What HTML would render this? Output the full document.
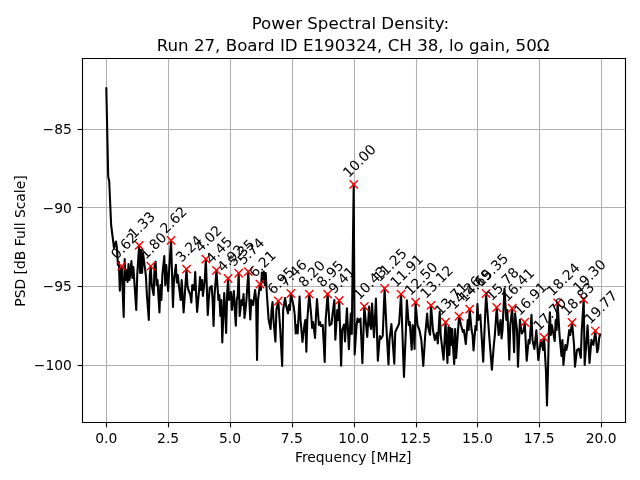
<!DOCTYPE html>
<html><head><meta charset="utf-8"><style>html,body{margin:0;padding:0;background:#fff;overflow:hidden}svg{display:block}</style></head><body>
<svg width="640" height="480" viewBox="0 0 460.8 345.6" version="1.1">
 
 <defs>
  <style type="text/css">*{stroke-linejoin: round; stroke-linecap: butt}</style>
 </defs>
 <g id="figure_1">
  <g id="patch_1">
   <path d="M 0 345.6 
L 460.8 345.6 
L 460.8 0 
L 0 0 
z
" style="fill: #ffffff"/>
  </g>
  <g id="axes_1">
   <g id="patch_2">
    <path d="M 58.757991 304.56 
L 449.874197 304.56 
L 449.874197 42.48 
L 58.757991 42.48 
z
" style="fill: #ffffff"/>
   </g>
   <g id="matplotlib.axis_1">
    <g id="xtick_1">
     <g id="line2d_1">
      <path d="M 76.6800 304.2000 
L 76.6800 42.1200 
" clip-path="url(#pe8d234627e)" style="fill: none; stroke: #b0b0b0; stroke-width: 0.8; stroke-linecap: square"/>
     </g>
     <g id="line2d_2">
      <defs>
       <path id="m1504cfccaf" d="M 0.0000 0.0000 
L 0.0000 3.5000 
" style="stroke: #000000; stroke-width: 0.8"/>
      </defs>
      <g>
       <path d="M 76.6800 304.2000 L 76.6800 307.7000" style="stroke: #000000; stroke-width: 0.8"/>
      </g>
     </g>
     <g id="text_1">
      <text style="font-size: 10px; font-family: 'DejaVu Sans', 'Bitstream Vera Sans', 'Computer Modern Sans Serif', 'Lucida Grande', 'Verdana', 'Geneva', 'Lucid', 'Arial', 'Helvetica', 'Avant Garde', sans-serif; text-anchor: middle" x="76.536" y="319.158437" transform="rotate(-0 76.536 319.158437)">0.0</text>
     </g>
    </g>
    <g id="xtick_2">
     <g id="line2d_3">
      <path d="M 121.3200 304.2000 
L 121.3200 42.1200 
" clip-path="url(#pe8d234627e)" style="fill: none; stroke: #b0b0b0; stroke-width: 0.8; stroke-linecap: square"/>
     </g>
     <g id="line2d_4">
      <g>
       <path d="M 121.3200 304.2000 L 121.3200 307.7000" style="stroke: #000000; stroke-width: 0.8"/>
      </g>
     </g>
     <g id="text_2">
      <text style="font-size: 10px; font-family: 'DejaVu Sans', 'Bitstream Vera Sans', 'Computer Modern Sans Serif', 'Lucida Grande', 'Verdana', 'Geneva', 'Lucid', 'Arial', 'Helvetica', 'Avant Garde', sans-serif; text-anchor: middle" x="121.068" y="319.158437" transform="rotate(-0 121.068 319.158437)">2.5</text>
     </g>
    </g>
    <g id="xtick_3">
     <g id="line2d_5">
      <path d="M 165.9600 304.2000 
L 165.9600 42.1200 
" clip-path="url(#pe8d234627e)" style="fill: none; stroke: #b0b0b0; stroke-width: 0.8; stroke-linecap: square"/>
     </g>
     <g id="line2d_6">
      <g>
       <path d="M 165.9600 304.2000 L 165.9600 307.7000" style="stroke: #000000; stroke-width: 0.8"/>
      </g>
     </g>
     <g id="text_3">
      <text style="font-size: 10px; font-family: 'DejaVu Sans', 'Bitstream Vera Sans', 'Computer Modern Sans Serif', 'Lucida Grande', 'Verdana', 'Geneva', 'Lucid', 'Arial', 'Helvetica', 'Avant Garde', sans-serif; text-anchor: middle" x="165.6" y="319.158437" transform="rotate(-0 165.6 319.158437)">5.0</text>
     </g>
    </g>
    <g id="xtick_4">
     <g id="line2d_7">
      <path d="M 210.6000 304.2000 
L 210.6000 42.1200 
" clip-path="url(#pe8d234627e)" style="fill: none; stroke: #b0b0b0; stroke-width: 0.8; stroke-linecap: square"/>
     </g>
     <g id="line2d_8">
      <g>
       <path d="M 210.6000 304.2000 L 210.6000 307.7000" style="stroke: #000000; stroke-width: 0.8"/>
      </g>
     </g>
     <g id="text_4">
      <text style="font-size: 10px; font-family: 'DejaVu Sans', 'Bitstream Vera Sans', 'Computer Modern Sans Serif', 'Lucida Grande', 'Verdana', 'Geneva', 'Lucid', 'Arial', 'Helvetica', 'Avant Garde', sans-serif; text-anchor: middle" x="210.132" y="319.158437" transform="rotate(-0 210.132 319.158437)">7.5</text>
     </g>
    </g>
    <g id="xtick_5">
     <g id="line2d_9">
      <path d="M 255.2400 304.2000 
L 255.2400 42.1200 
" clip-path="url(#pe8d234627e)" style="fill: none; stroke: #b0b0b0; stroke-width: 0.8; stroke-linecap: square"/>
     </g>
     <g id="line2d_10">
      <g>
       <path d="M 255.2400 304.2000 L 255.2400 307.7000" style="stroke: #000000; stroke-width: 0.8"/>
      </g>
     </g>
     <g id="text_5">
      <text style="font-size: 10px; font-family: 'DejaVu Sans', 'Bitstream Vera Sans', 'Computer Modern Sans Serif', 'Lucida Grande', 'Verdana', 'Geneva', 'Lucid', 'Arial', 'Helvetica', 'Avant Garde', sans-serif; text-anchor: middle" x="254.664" y="319.158437" transform="rotate(-0 254.664 319.158437)">10.0</text>
     </g>
    </g>
    <g id="xtick_6">
     <g id="line2d_11">
      <path d="M 299.8800 304.2000 
L 299.8800 42.1200 
" clip-path="url(#pe8d234627e)" style="fill: none; stroke: #b0b0b0; stroke-width: 0.8; stroke-linecap: square"/>
     </g>
     <g id="line2d_12">
      <g>
       <path d="M 299.8800 304.2000 L 299.8800 307.7000" style="stroke: #000000; stroke-width: 0.8"/>
      </g>
     </g>
     <g id="text_6">
      <text style="font-size: 10px; font-family: 'DejaVu Sans', 'Bitstream Vera Sans', 'Computer Modern Sans Serif', 'Lucida Grande', 'Verdana', 'Geneva', 'Lucid', 'Arial', 'Helvetica', 'Avant Garde', sans-serif; text-anchor: middle" x="299.196" y="319.158437" transform="rotate(-0 299.196 319.158437)">12.5</text>
     </g>
    </g>
    <g id="xtick_7">
     <g id="line2d_13">
      <path d="M 343.8000 304.2000 
L 343.8000 42.1200 
" clip-path="url(#pe8d234627e)" style="fill: none; stroke: #b0b0b0; stroke-width: 0.8; stroke-linecap: square"/>
     </g>
     <g id="line2d_14">
      <g>
       <path d="M 343.8000 304.2000 L 343.8000 307.7000" style="stroke: #000000; stroke-width: 0.8"/>
      </g>
     </g>
     <g id="text_7">
      <text style="font-size: 10px; font-family: 'DejaVu Sans', 'Bitstream Vera Sans', 'Computer Modern Sans Serif', 'Lucida Grande', 'Verdana', 'Geneva', 'Lucid', 'Arial', 'Helvetica', 'Avant Garde', sans-serif; text-anchor: middle" x="343.728" y="319.158437" transform="rotate(-0 343.728 319.158437)">15.0</text>
     </g>
    </g>
    <g id="xtick_8">
     <g id="line2d_15">
      <path d="M 388.4400 304.2000 
L 388.4400 42.1200 
" clip-path="url(#pe8d234627e)" style="fill: none; stroke: #b0b0b0; stroke-width: 0.8; stroke-linecap: square"/>
     </g>
     <g id="line2d_16">
      <g>
       <path d="M 388.4400 304.2000 L 388.4400 307.7000" style="stroke: #000000; stroke-width: 0.8"/>
      </g>
     </g>
     <g id="text_8">
      <text style="font-size: 10px; font-family: 'DejaVu Sans', 'Bitstream Vera Sans', 'Computer Modern Sans Serif', 'Lucida Grande', 'Verdana', 'Geneva', 'Lucid', 'Arial', 'Helvetica', 'Avant Garde', sans-serif; text-anchor: middle" x="388.26" y="319.158437" transform="rotate(-0 388.26 319.158437)">17.5</text>
     </g>
    </g>
    <g id="xtick_9">
     <g id="line2d_17">
      <path d="M 433.0800 304.2000 
L 433.0800 42.1200 
" clip-path="url(#pe8d234627e)" style="fill: none; stroke: #b0b0b0; stroke-width: 0.8; stroke-linecap: square"/>
     </g>
     <g id="line2d_18">
      <g>
       <path d="M 433.0800 304.2000 L 433.0800 307.7000" style="stroke: #000000; stroke-width: 0.8"/>
      </g>
     </g>
     <g id="text_9">
      <text style="font-size: 10px; font-family: 'DejaVu Sans', 'Bitstream Vera Sans', 'Computer Modern Sans Serif', 'Lucida Grande', 'Verdana', 'Geneva', 'Lucid', 'Arial', 'Helvetica', 'Avant Garde', sans-serif; text-anchor: middle" x="432.792" y="319.158437" transform="rotate(-0 432.792 319.158437)">20.0</text>
     </g>
    </g>
    <g id="text_10">
     <text style="font-size: 10px; font-family: 'DejaVu Sans', 'Bitstream Vera Sans', 'Computer Modern Sans Serif', 'Lucida Grande', 'Verdana', 'Geneva', 'Lucid', 'Arial', 'Helvetica', 'Avant Garde', sans-serif; text-anchor: middle" x="254.316094" y="332.836562" transform="rotate(-0 254.316094 332.836562)">Frequency [MHz]</text>
    </g>
   </g>
   <g id="matplotlib.axis_2">
    <g id="ytick_1">
     <g id="line2d_19">
      <path d="M 59.4000 263.1600 
L 450.3600 263.1600 
" clip-path="url(#pe8d234627e)" style="fill: none; stroke: #b0b0b0; stroke-width: 0.8; stroke-linecap: square"/>
     </g>
     <g id="line2d_20">
      <defs>
       <path id="m5d545ce8f8" d="M 0.0000 0.0000 
L -3.5000 0.0000 
" style="stroke: #000000; stroke-width: 0.8"/>
      </defs>
      <g>
       <path d="M 59.4000 263.1600 L 55.9000 263.1600" style="stroke: #000000; stroke-width: 0.8"/>
      </g>
     </g>
     <g id="text_11">
      <text style="font-size: 10px; font-family: 'DejaVu Sans', 'Bitstream Vera Sans', 'Computer Modern Sans Serif', 'Lucida Grande', 'Verdana', 'Geneva', 'Lucid', 'Arial', 'Helvetica', 'Avant Garde', sans-serif; text-anchor: end" x="51.7580" y="266.5020" transform="rotate(-0 51.7580 266.5020)">−100</text>
     </g>
    </g>
    <g id="ytick_2">
     <g id="line2d_21">
      <path d="M 59.4000 206.2800 
L 450.3600 206.2800 
" clip-path="url(#pe8d234627e)" style="fill: none; stroke: #b0b0b0; stroke-width: 0.8; stroke-linecap: square"/>
     </g>
     <g id="line2d_22">
      <g>
       <path d="M 59.4000 206.2800 L 55.9000 206.2800" style="stroke: #000000; stroke-width: 0.8"/>
      </g>
     </g>
     <g id="text_12">
      <text style="font-size: 10px; font-family: 'DejaVu Sans', 'Bitstream Vera Sans', 'Computer Modern Sans Serif', 'Lucida Grande', 'Verdana', 'Geneva', 'Lucid', 'Arial', 'Helvetica', 'Avant Garde', sans-serif; text-anchor: end" x="51.7580" y="209.8632" transform="rotate(-0 51.7580 209.8632)">−95</text>
     </g>
    </g>
    <g id="ytick_3">
     <g id="line2d_23">
      <path d="M 59.4000 149.4000 
L 450.3600 149.4000 
" clip-path="url(#pe8d234627e)" style="fill: none; stroke: #b0b0b0; stroke-width: 0.8; stroke-linecap: square"/>
     </g>
     <g id="line2d_24">
      <g>
       <path d="M 59.4000 149.4000 L 55.9000 149.4000" style="stroke: #000000; stroke-width: 0.8"/>
      </g>
     </g>
     <g id="text_13">
      <text style="font-size: 10px; font-family: 'DejaVu Sans', 'Bitstream Vera Sans', 'Computer Modern Sans Serif', 'Lucida Grande', 'Verdana', 'Geneva', 'Lucid', 'Arial', 'Helvetica', 'Avant Garde', sans-serif; text-anchor: end" x="51.7580" y="153.2244" transform="rotate(-0 51.7580 153.2244)">−90</text>
     </g>
    </g>
    <g id="ytick_4">
     <g id="line2d_25">
      <path d="M 59.4000 93.2400 
L 450.3600 93.2400 
" clip-path="url(#pe8d234627e)" style="fill: none; stroke: #b0b0b0; stroke-width: 0.8; stroke-linecap: square"/>
     </g>
     <g id="line2d_26">
      <g>
       <path d="M 59.4000 93.2400 L 55.9000 93.2400" style="stroke: #000000; stroke-width: 0.8"/>
      </g>
     </g>
     <g id="text_14">
      <text style="font-size: 10px; font-family: 'DejaVu Sans', 'Bitstream Vera Sans', 'Computer Modern Sans Serif', 'Lucida Grande', 'Verdana', 'Geneva', 'Lucid', 'Arial', 'Helvetica', 'Avant Garde', sans-serif; text-anchor: end" x="51.7580" y="96.5856" transform="rotate(-0 51.7580 96.5856)">−85</text>
     </g>
    </g>
    <g id="text_15">
     <text style="font-size: 10px; font-family: 'DejaVu Sans', 'Bitstream Vera Sans', 'Computer Modern Sans Serif', 'Lucida Grande', 'Verdana', 'Geneva', 'Lucid', 'Arial', 'Helvetica', 'Avant Garde', sans-serif; text-anchor: middle" x="18.211116" y="173.52" transform="rotate(-90 18.211116 173.52)">PSD [dB Full Scale]</text>
    </g>
   </g>
   <g id="line2d_27">
    <path d="M 76.536 63.576 
L 77.927625 127.44 
L 78.623437 130.32 
L 80.015062 162 
L 82.1025 178.56 
L 83.494125 173.88 
L 84.189937 178.56 
L 84.88575 190.8 
L 85.581563 188.64 
L 86.277375 209.232 
L 86.973187 192.96 
L 87.669 191.664 
L 89.060625 228.168 
L 89.756438 186.552 
L 90.45225 201.6 
L 91.148062 194.4 
L 91.843875 203.04 
L 92.539687 190.08 
L 93.2355 201.6 
L 93.931313 195.84 
L 94.627125 187.92 
L 95.322937 200.16 
L 96.01875 192.24 
L 98.106188 223.2 
L 98.802 198 
L 100.193625 176.688 
L 100.889437 196.56 
L 101.58525 180 
L 102.281063 196.56 
L 102.976875 182.16 
L 105.064312 198.72 
L 105.760125 212.4 
L 107.15175 230.4 
L 107.847562 198 
L 108.543375 191.664 
L 109.239187 205.2 
L 110.630812 212.4 
L 111.326625 190.08 
L 112.022437 188.352 
L 112.71825 205.2 
L 113.414062 201.6 
L 114.805688 225 
L 115.5015 205.2 
L 116.197313 216 
L 116.893125 198 
L 118.28475 184.32 
L 118.980562 205.2 
L 119.676375 190.8 
L 121.068 209.52 
L 121.763813 194.4 
L 123.155438 173.088 
L 124.547063 221.04 
L 125.242875 201.6 
L 126.6345 190.62 
L 127.330312 203.4 
L 128.026125 198 
L 128.721937 205.2 
L 130.113563 216 
L 130.809375 201.6 
L 132.201 225 
L 134.288437 193.752 
L 134.98425 205.92 
L 135.680062 208.8 
L 137.071687 212.4 
L 137.7675 217.8 
L 138.463313 205.2 
L 139.854938 208.8 
L 140.55075 195.84 
L 141.246562 212.4 
L 141.942375 224.64 
L 143.334 208.8 
L 144.029812 199.44 
L 144.725625 208.8 
L 145.421437 201.6 
L 146.11725 213.12 
L 147.508875 200.16 
L 148.204687 186.552 
L 149.596313 226.8 
L 150.292125 216 
L 150.987937 207.36 
L 152.379562 205.92 
L 153.075375 216 
L 153.771187 234.72 
L 154.467 212.4 
L 155.858625 194.688 
L 157.25025 216 
L 157.946062 212.4 
L 158.641875 227.52 
L 159.337688 216 
L 160.0335 246.6 
L 161.425125 210.96 
L 162.120937 223.2 
L 162.81675 239.76 
L 163.512563 212.4 
L 164.208375 200.52 
L 164.904187 216 
L 166.295813 210.24 
L 166.991625 223.2 
L 168.38325 209.52 
L 169.079062 223.2 
L 169.774875 234.432 
L 170.470687 216 
L 171.1665 212.4 
L 171.862313 196.74 
L 172.558125 227.52 
L 173.94975 216 
L 174.645562 219.6 
L 175.341375 211.68 
L 176.037188 228.96 
L 176.733 223.2 
L 177.428812 216 
L 178.820437 195.552 
L 179.51625 216 
L 180.212063 229.968 
L 180.907875 216 
L 182.2995 219.6 
L 183.691125 208.8 
L 184.386937 216 
L 185.08275 259.2 
L 185.778562 216 
L 187.170187 204.552 
L 187.866 208.8 
L 188.561813 196.2 
L 189.257625 203.04 
L 189.953438 195.48 
L 190.64925 205.2 
L 191.345062 196.56 
L 192.040875 210.24 
L 193.4325 230.4 
L 194.824125 236.88 
L 195.519937 223.2 
L 196.21575 217.44 
L 196.911563 230.4 
L 198.303187 245.952 
L 198.999 223.2 
L 200.390625 216.72 
L 201.78225 237.6 
L 203.173875 263.52 
L 203.869687 223.2 
L 205.261313 214.56 
L 205.957125 219.6 
L 207.34875 225.72 
L 208.044562 219.6 
L 208.740375 223.2 
L 209.436187 211.32 
L 211.523625 221.04 
L 212.219437 226.8 
L 212.91525 240.12 
L 213.611063 234 
L 214.306875 240.12 
L 215.6985 213.552 
L 216.394312 230.4 
L 217.785937 246.24 
L 219.177562 234 
L 219.873375 230.4 
L 220.569187 253.152 
L 221.265 230.4 
L 222.656625 211.752 
L 224.04825 226.8 
L 224.744062 236.16 
L 225.439875 231.84 
L 226.8315 243.36 
L 227.527312 226.8 
L 228.223125 215.28 
L 229.61475 234 
L 230.310563 231.84 
L 231.006375 234.72 
L 232.398 234 
L 233.789625 260.64 
L 234.485437 230.4 
L 235.877062 211.752 
L 237.268687 234.288 
L 238.660313 233.28 
L 239.356125 226.8 
L 240.74775 216 
L 241.443562 244.656 
L 242.835187 223.2 
L 243.531 230.4 
L 244.226812 216.36 
L 245.618437 263.232 
L 246.31425 237.6 
L 247.705875 233.64 
L 248.401688 245.808 
L 249.793312 222.048 
L 251.184937 251.46 
L 252.576562 225.792 
L 253.272375 240.408 
L 254.664 132.768 
L 255.359813 255.168 
L 256.751437 234 
L 257.44725 229.32 
L 258.143062 231.84 
L 259.534688 229.32 
L 260.926312 261.432 
L 262.317937 220.68 
L 264.405375 242.568 
L 265.797 220.68 
L 266.492813 234 
L 267.188625 236.88 
L 267.884437 218.52 
L 269.276062 242.82 
L 270.667687 214.992 
L 272.059313 259.632 
L 273.450938 241.92 
L 274.14675 244.08 
L 275.538375 241.92 
L 276.93 207.72 
L 278.321625 237.6 
L 279.71325 262.368 
L 280.409063 244.8 
L 281.800687 233.28 
L 283.888125 261.9 
L 284.583937 239.04 
L 286.671375 234.54 
L 287.367188 232.92 
L 288.758812 211.752 
L 290.84625 271.368 
L 292.237875 237.6 
L 292.933688 216.288 
L 294.325312 234 
L 295.021125 231.84 
L 296.41275 251.82 
L 297.108563 234 
L 297.804375 237.6 
L 298.500187 251.28 
L 299.196 217.62 
L 300.587625 234 
L 301.97925 237.6 
L 303.370875 244.8 
L 304.7625 263.52 
L 306.154125 241.2 
L 307.54575 225.72 
L 308.241562 235.44 
L 309.633187 241.02 
L 310.329 219.888 
L 311.720625 237.6 
L 313.11225 244.8 
L 314.503875 239.76 
L 315.199687 247.32 
L 316.591312 224.352 
L 317.287125 241.2 
L 319.374563 259.02 
L 320.766188 232.02 
L 322.157812 261.288 
L 322.853625 235.44 
L 323.549437 255.6 
L 324.24525 236.16 
L 324.941062 248.4 
L 325.636875 236.88 
L 326.332688 252 
L 327.0285 262.08 
L 327.724312 236.88 
L 328.420125 257.76 
L 330.507562 227.7 
L 331.899187 234 
L 333.290813 239.04 
L 333.986625 237.6 
L 335.37825 247.68 
L 336.769875 230.4 
L 337.465688 237.6 
L 338.1615 222.552 
L 339.553125 237.6 
L 340.248938 241.2 
L 340.94475 252.288 
L 342.336375 234.72 
L 343.032187 237.6 
L 343.728 218.88 
L 344.423812 230.4 
L 345.815437 226.62 
L 347.902875 260.352 
L 349.990313 211.32 
L 352.773562 248.82 
L 354.165188 266.22 
L 355.556812 248.4 
L 356.252625 241.92 
L 357.64425 221.4 
L 359.035875 241.2 
L 360.4275 230.4 
L 361.123312 243.72 
L 361.819125 237.6 
L 363.21075 207.72 
L 364.602375 230.4 
L 365.298187 223.2 
L 366.689813 259.02 
L 367.385625 234 
L 368.77725 221.94 
L 370.168875 253.62 
L 370.864688 225.72 
L 372.256312 237.6 
L 372.952125 263.952 
L 374.34375 230.22 
L 375.735375 240.12 
L 377.127 237.6 
L 377.822812 232.02 
L 379.214437 259.776 
L 380.606063 244.8 
L 381.301875 247.32 
L 382.6935 226.62 
L 383.389313 244.8 
L 384.780937 251.28 
L 386.172562 237.888 
L 387.564188 259.2 
L 388.955812 248.4 
L 389.651625 244.8 
L 391.04325 252 
L 391.739062 243 
L 393.130687 267.84 
L 393.8265 291.96 
L 394.522312 267.84 
L 395.218125 237.6 
L 395.913937 224.82 
L 396.60975 241.2 
L 397.305563 234 
L 398.697187 241.56 
L 399.393 245.52 
L 400.088812 230.4 
L 400.784625 237.6 
L 401.480437 218.088 
L 402.872062 241.2 
L 404.263688 256.32 
L 404.9595 244.8 
L 405.655312 262.8 
L 407.046938 248.4 
L 407.74275 252 
L 408.438562 249.12 
L 409.830187 237.6 
L 410.526 241.2 
L 411.917625 232.2 
L 413.30925 248.4 
L 414.005063 263.952 
L 415.396687 252 
L 416.788312 251.064 
L 418.179937 257.544 
L 418.87575 237.6 
L 420.267375 215.568 
L 420.963188 262.728 
L 422.354812 244.8 
L 423.050625 234.288 
L 424.44225 261.36 
L 425.833875 244.656 
L 427.2255 248.4 
L 428.617125 238.176 
L 430.00875 253.656 
L 430.704563 251.064 
L 431.400375 243.36 
L 432.096187 240.768 
L 432.096187 240.768 
" clip-path="url(#pe8d234627e)" style="fill: none; stroke: #000000; stroke-width: 1.5; stroke-linecap: square"/>
   </g>
   <g id="line2d_28">
    <defs>
     <path id="m9a7feaacb2" d="M -3 3 
L 3 -3 
M -3 -3 
L 3 3 
" style="stroke: #ff0000"/>
    </defs>
    <g clip-path="url(#pe8d234627e)">
     <use href="#m9a7feaacb2" x="87.669" y="191.664" style="fill: #ff0000; stroke: #ff0000"/>
     <use href="#m9a7feaacb2" x="100.193625" y="176.688" style="fill: #ff0000; stroke: #ff0000"/>
     <use href="#m9a7feaacb2" x="108.543375" y="191.664" style="fill: #ff0000; stroke: #ff0000"/>
     <use href="#m9a7feaacb2" x="123.155438" y="173.088" style="fill: #ff0000; stroke: #ff0000"/>
     <use href="#m9a7feaacb2" x="134.288437" y="193.752" style="fill: #ff0000; stroke: #ff0000"/>
     <use href="#m9a7feaacb2" x="148.204687" y="186.552" style="fill: #ff0000; stroke: #ff0000"/>
     <use href="#m9a7feaacb2" x="155.858625" y="194.688" style="fill: #ff0000; stroke: #ff0000"/>
     <use href="#m9a7feaacb2" x="164.208375" y="200.52" style="fill: #ff0000; stroke: #ff0000"/>
     <use href="#m9a7feaacb2" x="171.862313" y="196.74" style="fill: #ff0000; stroke: #ff0000"/>
     <use href="#m9a7feaacb2" x="178.820437" y="195.552" style="fill: #ff0000; stroke: #ff0000"/>
     <use href="#m9a7feaacb2" x="187.170187" y="204.552" style="fill: #ff0000; stroke: #ff0000"/>
     <use href="#m9a7feaacb2" x="200.390625" y="216.72" style="fill: #ff0000; stroke: #ff0000"/>
     <use href="#m9a7feaacb2" x="209.436187" y="211.32" style="fill: #ff0000; stroke: #ff0000"/>
     <use href="#m9a7feaacb2" x="222.656625" y="211.752" style="fill: #ff0000; stroke: #ff0000"/>
     <use href="#m9a7feaacb2" x="235.877062" y="211.752" style="fill: #ff0000; stroke: #ff0000"/>
     <use href="#m9a7feaacb2" x="244.226812" y="216.36" style="fill: #ff0000; stroke: #ff0000"/>
     <use href="#m9a7feaacb2" x="254.664" y="132.768" style="fill: #ff0000; stroke: #ff0000"/>
     <use href="#m9a7feaacb2" x="262.317937" y="220.68" style="fill: #ff0000; stroke: #ff0000"/>
     <use href="#m9a7feaacb2" x="276.93" y="207.72" style="fill: #ff0000; stroke: #ff0000"/>
     <use href="#m9a7feaacb2" x="288.758812" y="211.752" style="fill: #ff0000; stroke: #ff0000"/>
     <use href="#m9a7feaacb2" x="299.196" y="217.62" style="fill: #ff0000; stroke: #ff0000"/>
     <use href="#m9a7feaacb2" x="310.329" y="219.888" style="fill: #ff0000; stroke: #ff0000"/>
     <use href="#m9a7feaacb2" x="320.766188" y="232.02" style="fill: #ff0000; stroke: #ff0000"/>
     <use href="#m9a7feaacb2" x="330.507562" y="227.7" style="fill: #ff0000; stroke: #ff0000"/>
     <use href="#m9a7feaacb2" x="338.1615" y="222.552" style="fill: #ff0000; stroke: #ff0000"/>
     <use href="#m9a7feaacb2" x="349.990313" y="211.32" style="fill: #ff0000; stroke: #ff0000"/>
     <use href="#m9a7feaacb2" x="357.64425" y="221.4" style="fill: #ff0000; stroke: #ff0000"/>
     <use href="#m9a7feaacb2" x="368.77725" y="221.94" style="fill: #ff0000; stroke: #ff0000"/>
     <use href="#m9a7feaacb2" x="377.822812" y="232.02" style="fill: #ff0000; stroke: #ff0000"/>
     <use href="#m9a7feaacb2" x="391.739062" y="243" style="fill: #ff0000; stroke: #ff0000"/>
     <use href="#m9a7feaacb2" x="401.480437" y="218.088" style="fill: #ff0000; stroke: #ff0000"/>
     <use href="#m9a7feaacb2" x="411.917625" y="232.2" style="fill: #ff0000; stroke: #ff0000"/>
     <use href="#m9a7feaacb2" x="420.267375" y="215.568" style="fill: #ff0000; stroke: #ff0000"/>
     <use href="#m9a7feaacb2" x="428.617125" y="238.176" style="fill: #ff0000; stroke: #ff0000"/>
    </g>
   </g>
   <g id="patch_3">
    <path d="M 59.4000 304.2000 
L 59.4000 42.1200 
" style="fill: none; stroke: #000000; stroke-width: 0.8; stroke-linejoin: miter; stroke-linecap: square"/>
   </g>
   <g id="patch_4">
    <path d="M 450.3600 304.2000 
L 450.3600 42.1200 
" style="fill: none; stroke: #000000; stroke-width: 0.8; stroke-linejoin: miter; stroke-linecap: square"/>
   </g>
   <g id="patch_5">
    <path d="M 59.4000 304.2000 
L 450.3600 304.2000 
" style="fill: none; stroke: #000000; stroke-width: 0.8; stroke-linejoin: miter; stroke-linecap: square"/>
   </g>
   <g id="patch_6">
    <path d="M 59.4000 42.1200 
L 450.3600 42.1200 
" style="fill: none; stroke: #000000; stroke-width: 0.8; stroke-linejoin: miter; stroke-linecap: square"/>
   </g>
   <g id="text_16">
    <text style="font-size: 10px; font-family: 'DejaVu Sans', 'Bitstream Vera Sans', 'Computer Modern Sans Serif', 'Lucida Grande', 'Verdana', 'Geneva', 'Lucid', 'Arial', 'Helvetica', 'Avant Garde', sans-serif" transform="translate(84.041907 187.273126) rotate(-45)">0.62</text>
   </g>
   <g id="text_17">
    <text style="font-size: 10px; font-family: 'DejaVu Sans', 'Bitstream Vera Sans', 'Computer Modern Sans Serif', 'Lucida Grande', 'Verdana', 'Geneva', 'Lucid', 'Arial', 'Helvetica', 'Avant Garde', sans-serif" transform="translate(96.566532 172.297126) rotate(-45)">1.33</text>
   </g>
   <g id="text_18">
    <text style="font-size: 10px; font-family: 'DejaVu Sans', 'Bitstream Vera Sans', 'Computer Modern Sans Serif', 'Lucida Grande', 'Verdana', 'Geneva', 'Lucid', 'Arial', 'Helvetica', 'Avant Garde', sans-serif" transform="translate(104.916282 187.273126) rotate(-45)">1.80</text>
   </g>
   <g id="text_19">
    <text style="font-size: 10px; font-family: 'DejaVu Sans', 'Bitstream Vera Sans', 'Computer Modern Sans Serif', 'Lucida Grande', 'Verdana', 'Geneva', 'Lucid', 'Arial', 'Helvetica', 'Avant Garde', sans-serif" transform="translate(119.528344 168.697126) rotate(-45)">2.62</text>
   </g>
   <g id="text_20">
    <text style="font-size: 10px; font-family: 'DejaVu Sans', 'Bitstream Vera Sans', 'Computer Modern Sans Serif', 'Lucida Grande', 'Verdana', 'Geneva', 'Lucid', 'Arial', 'Helvetica', 'Avant Garde', sans-serif" transform="translate(130.661344 189.361126) rotate(-45)">3.24</text>
   </g>
   <g id="text_21">
    <text style="font-size: 10px; font-family: 'DejaVu Sans', 'Bitstream Vera Sans', 'Computer Modern Sans Serif', 'Lucida Grande', 'Verdana', 'Geneva', 'Lucid', 'Arial', 'Helvetica', 'Avant Garde', sans-serif" transform="translate(144.577594 182.161126) rotate(-45)">4.02</text>
   </g>
   <g id="text_22">
    <text style="font-size: 10px; font-family: 'DejaVu Sans', 'Bitstream Vera Sans', 'Computer Modern Sans Serif', 'Lucida Grande', 'Verdana', 'Geneva', 'Lucid', 'Arial', 'Helvetica', 'Avant Garde', sans-serif" transform="translate(152.231532 190.297126) rotate(-45)">4.45</text>
   </g>
   <g id="text_23">
    <text style="font-size: 10px; font-family: 'DejaVu Sans', 'Bitstream Vera Sans', 'Computer Modern Sans Serif', 'Lucida Grande', 'Verdana', 'Geneva', 'Lucid', 'Arial', 'Helvetica', 'Avant Garde', sans-serif" transform="translate(160.581282 196.129126) rotate(-45)">4.92</text>
   </g>
   <g id="text_24">
    <text style="font-size: 10px; font-family: 'DejaVu Sans', 'Bitstream Vera Sans', 'Computer Modern Sans Serif', 'Lucida Grande', 'Verdana', 'Geneva', 'Lucid', 'Arial', 'Helvetica', 'Avant Garde', sans-serif" transform="translate(168.235219 192.349126) rotate(-45)">5.35</text>
   </g>
   <g id="text_25">
    <text style="font-size: 10px; font-family: 'DejaVu Sans', 'Bitstream Vera Sans', 'Computer Modern Sans Serif', 'Lucida Grande', 'Verdana', 'Geneva', 'Lucid', 'Arial', 'Helvetica', 'Avant Garde', sans-serif" transform="translate(175.193344 191.161126) rotate(-45)">5.74</text>
   </g>
   <g id="text_26">
    <text style="font-size: 10px; font-family: 'DejaVu Sans', 'Bitstream Vera Sans', 'Computer Modern Sans Serif', 'Lucida Grande', 'Verdana', 'Geneva', 'Lucid', 'Arial', 'Helvetica', 'Avant Garde', sans-serif" transform="translate(183.543094 200.161126) rotate(-45)">6.21</text>
   </g>
   <g id="text_27">
    <text style="font-size: 10px; font-family: 'DejaVu Sans', 'Bitstream Vera Sans', 'Computer Modern Sans Serif', 'Lucida Grande', 'Verdana', 'Geneva', 'Lucid', 'Arial', 'Helvetica', 'Avant Garde', sans-serif" transform="translate(196.763532 212.329126) rotate(-45)">6.95</text>
   </g>
   <g id="text_28">
    <text style="font-size: 10px; font-family: 'DejaVu Sans', 'Bitstream Vera Sans', 'Computer Modern Sans Serif', 'Lucida Grande', 'Verdana', 'Geneva', 'Lucid', 'Arial', 'Helvetica', 'Avant Garde', sans-serif" transform="translate(205.809094 206.929126) rotate(-45)">7.46</text>
   </g>
   <g id="text_29">
    <text style="font-size: 10px; font-family: 'DejaVu Sans', 'Bitstream Vera Sans', 'Computer Modern Sans Serif', 'Lucida Grande', 'Verdana', 'Geneva', 'Lucid', 'Arial', 'Helvetica', 'Avant Garde', sans-serif" transform="translate(219.029532 207.361126) rotate(-45)">8.20</text>
   </g>
   <g id="text_30">
    <text style="font-size: 10px; font-family: 'DejaVu Sans', 'Bitstream Vera Sans', 'Computer Modern Sans Serif', 'Lucida Grande', 'Verdana', 'Geneva', 'Lucid', 'Arial', 'Helvetica', 'Avant Garde', sans-serif" transform="translate(232.249969 207.361126) rotate(-45)">8.95</text>
   </g>
   <g id="text_31">
    <text style="font-size: 10px; font-family: 'DejaVu Sans', 'Bitstream Vera Sans', 'Computer Modern Sans Serif', 'Lucida Grande', 'Verdana', 'Geneva', 'Lucid', 'Arial', 'Helvetica', 'Avant Garde', sans-serif" transform="translate(240.599719 211.969126) rotate(-45)">9.41</text>
   </g>
   <g id="text_32">
    <text style="font-size: 10px; font-family: 'DejaVu Sans', 'Bitstream Vera Sans', 'Computer Modern Sans Serif', 'Lucida Grande', 'Verdana', 'Geneva', 'Lucid', 'Arial', 'Helvetica', 'Avant Garde', sans-serif" transform="translate(251.036907 128.377126) rotate(-45)">10.00</text>
   </g>
   <g id="text_33">
    <text style="font-size: 10px; font-family: 'DejaVu Sans', 'Bitstream Vera Sans', 'Computer Modern Sans Serif', 'Lucida Grande', 'Verdana', 'Geneva', 'Lucid', 'Arial', 'Helvetica', 'Avant Garde', sans-serif" transform="translate(258.690844 216.289126) rotate(-45)">10.43</text>
   </g>
   <g id="text_34">
    <text style="font-size: 10px; font-family: 'DejaVu Sans', 'Bitstream Vera Sans', 'Computer Modern Sans Serif', 'Lucida Grande', 'Verdana', 'Geneva', 'Lucid', 'Arial', 'Helvetica', 'Avant Garde', sans-serif" transform="translate(273.302907 203.329126) rotate(-45)">11.25</text>
   </g>
   <g id="text_35">
    <text style="font-size: 10px; font-family: 'DejaVu Sans', 'Bitstream Vera Sans', 'Computer Modern Sans Serif', 'Lucida Grande', 'Verdana', 'Geneva', 'Lucid', 'Arial', 'Helvetica', 'Avant Garde', sans-serif" transform="translate(285.131719 207.361126) rotate(-45)">11.91</text>
   </g>
   <g id="text_36">
    <text style="font-size: 10px; font-family: 'DejaVu Sans', 'Bitstream Vera Sans', 'Computer Modern Sans Serif', 'Lucida Grande', 'Verdana', 'Geneva', 'Lucid', 'Arial', 'Helvetica', 'Avant Garde', sans-serif" transform="translate(295.568907 213.229126) rotate(-45)">12.50</text>
   </g>
   <g id="text_37">
    <text style="font-size: 10px; font-family: 'DejaVu Sans', 'Bitstream Vera Sans', 'Computer Modern Sans Serif', 'Lucida Grande', 'Verdana', 'Geneva', 'Lucid', 'Arial', 'Helvetica', 'Avant Garde', sans-serif" transform="translate(306.701907 215.497126) rotate(-45)">13.12</text>
   </g>
   <g id="text_38">
    <text style="font-size: 10px; font-family: 'DejaVu Sans', 'Bitstream Vera Sans', 'Computer Modern Sans Serif', 'Lucida Grande', 'Verdana', 'Geneva', 'Lucid', 'Arial', 'Helvetica', 'Avant Garde', sans-serif" transform="translate(317.139094 227.629126) rotate(-45)">13.71</text>
   </g>
   <g id="text_39">
    <text style="font-size: 10px; font-family: 'DejaVu Sans', 'Bitstream Vera Sans', 'Computer Modern Sans Serif', 'Lucida Grande', 'Verdana', 'Geneva', 'Lucid', 'Arial', 'Helvetica', 'Avant Garde', sans-serif" transform="translate(326.880469 223.309126) rotate(-45)">14.26</text>
   </g>
   <g id="text_40">
    <text style="font-size: 10px; font-family: 'DejaVu Sans', 'Bitstream Vera Sans', 'Computer Modern Sans Serif', 'Lucida Grande', 'Verdana', 'Geneva', 'Lucid', 'Arial', 'Helvetica', 'Avant Garde', sans-serif" transform="translate(334.534407 218.161126) rotate(-45)">14.69</text>
   </g>
   <g id="text_41">
    <text style="font-size: 10px; font-family: 'DejaVu Sans', 'Bitstream Vera Sans', 'Computer Modern Sans Serif', 'Lucida Grande', 'Verdana', 'Geneva', 'Lucid', 'Arial', 'Helvetica', 'Avant Garde', sans-serif" transform="translate(346.363219 206.929126) rotate(-45)">15.35</text>
   </g>
   <g id="text_42">
    <text style="font-size: 10px; font-family: 'DejaVu Sans', 'Bitstream Vera Sans', 'Computer Modern Sans Serif', 'Lucida Grande', 'Verdana', 'Geneva', 'Lucid', 'Arial', 'Helvetica', 'Avant Garde', sans-serif" transform="translate(354.017157 217.009126) rotate(-45)">15.78</text>
   </g>
   <g id="text_43">
    <text style="font-size: 10px; font-family: 'DejaVu Sans', 'Bitstream Vera Sans', 'Computer Modern Sans Serif', 'Lucida Grande', 'Verdana', 'Geneva', 'Lucid', 'Arial', 'Helvetica', 'Avant Garde', sans-serif" transform="translate(365.150157 217.549126) rotate(-45)">16.41</text>
   </g>
   <g id="text_44">
    <text style="font-size: 10px; font-family: 'DejaVu Sans', 'Bitstream Vera Sans', 'Computer Modern Sans Serif', 'Lucida Grande', 'Verdana', 'Geneva', 'Lucid', 'Arial', 'Helvetica', 'Avant Garde', sans-serif" transform="translate(374.195719 227.629126) rotate(-45)">16.91</text>
   </g>
   <g id="text_45">
    <text style="font-size: 10px; font-family: 'DejaVu Sans', 'Bitstream Vera Sans', 'Computer Modern Sans Serif', 'Lucida Grande', 'Verdana', 'Geneva', 'Lucid', 'Arial', 'Helvetica', 'Avant Garde', sans-serif" transform="translate(388.111969 238.609126) rotate(-45)">17.70</text>
   </g>
   <g id="text_46">
    <text style="font-size: 10px; font-family: 'DejaVu Sans', 'Bitstream Vera Sans', 'Computer Modern Sans Serif', 'Lucida Grande', 'Verdana', 'Geneva', 'Lucid', 'Arial', 'Helvetica', 'Avant Garde', sans-serif" transform="translate(397.853344 213.697126) rotate(-45)">18.24</text>
   </g>
   <g id="text_47">
    <text style="font-size: 10px; font-family: 'DejaVu Sans', 'Bitstream Vera Sans', 'Computer Modern Sans Serif', 'Lucida Grande', 'Verdana', 'Geneva', 'Lucid', 'Arial', 'Helvetica', 'Avant Garde', sans-serif" transform="translate(408.290532 227.809126) rotate(-45)">18.83</text>
   </g>
   <g id="text_48">
    <text style="font-size: 10px; font-family: 'DejaVu Sans', 'Bitstream Vera Sans', 'Computer Modern Sans Serif', 'Lucida Grande', 'Verdana', 'Geneva', 'Lucid', 'Arial', 'Helvetica', 'Avant Garde', sans-serif" transform="translate(416.640282 211.177126) rotate(-45)">19.30</text>
   </g>
   <g id="text_49">
    <text style="font-size: 10px; font-family: 'DejaVu Sans', 'Bitstream Vera Sans', 'Computer Modern Sans Serif', 'Lucida Grande', 'Verdana', 'Geneva', 'Lucid', 'Arial', 'Helvetica', 'Avant Garde', sans-serif" transform="translate(424.990032 233.785126) rotate(-45)">19.77</text>
   </g>
   <g id="text_50">
    <text style="font-size: 12px; font-family: 'DejaVu Sans', 'Bitstream Vera Sans', 'Computer Modern Sans Serif', 'Lucida Grande', 'Verdana', 'Geneva', 'Lucid', 'Arial', 'Helvetica', 'Avant Garde', sans-serif" transform="translate(181.1813 20.5946)">Power Spectral Density:</text>
    <text style="font-size: 12px; font-family: 'DejaVu Sans', 'Bitstream Vera Sans', 'Computer Modern Sans Serif', 'Lucida Grande', 'Verdana', 'Geneva', 'Lucid', 'Arial', 'Helvetica', 'Avant Garde', sans-serif" transform="translate(112.815469 36.48)">Run 27, Board ID E190324, CH 38, lo gain, 50Ω</text>
   </g>
  </g>
 </g>
 <defs>
  <clipPath id="pe8d234627e">
   <rect x="58.757991" y="42.48" width="391.116206" height="262.08"/>
  </clipPath>
 </defs>
</svg>

</body></html>
